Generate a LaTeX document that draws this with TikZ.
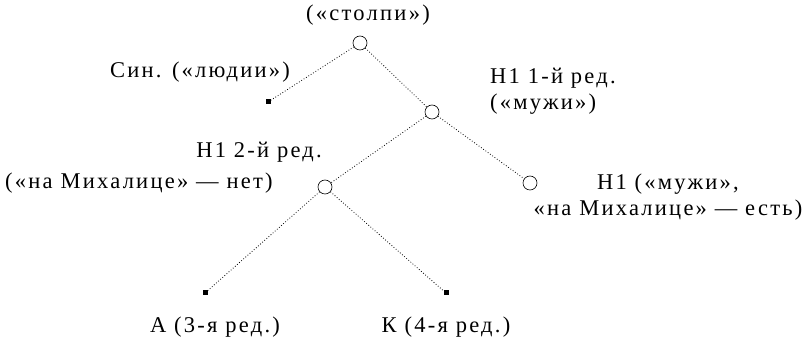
\documentclass[tikz,border=0pt]{standalone}
\usepackage{fontspec}
\setmainfont{Liberation Serif}[LetterSpace=10]
\begin{document}
\begin{tikzpicture}[x=1pt,y=-1pt,
    ms/.style={circle,draw,semithick,fill=white,inner sep=0pt,minimum size=14pt},
    leaf/.style={rectangle,fill=black,inner sep=0pt,minimum size=5pt},
    lbl/.style={inner sep=0pt,font=\fontsize{22.5}{26}\selectfont},
    link/.style={dotted,thick}]
        \useasboundingbox (0,0) rectangle (806,344) ;
        % manuscripts
        \node[ms] (arch) at (360,43) {} ;
        \node[leaf] (sin) at (268,102) {} ;
        \node[ms] (nf) at (432,112) {} ;
        \node[ms] (ns) at (325,187) {} ;
        \node[ms] (nr) at (530,183) {} ;
        \node[leaf] (ca) at (205,293) {} ;
        \node[leaf] (ck) at (446,293) {} ;
        % links
        \draw[link] (arch) -- (sin) ;
        \draw[link] (arch) -- (nf) ;
        \draw[link] (nf) -- (ns) ;
        \draw[link] (nf) -- (nr) ;
        \draw[link] (ns) -- (ca) ;
        \draw[link] (ns) -- (ck) ;
        % labels
        \node[lbl] (archl) at (368,15) {(«столпи»)} ;
        \node[lbl] (sinl) at (200,72) {Син. («людии»)} ;
        \node[lbl,anchor=west,align=left] (nfl) at (490,91) {Н1 1-й ред.\\(«мужи»)} ;
        \node[lbl,anchor=east] (nsla) at (322,152) {Н1 2-й ред.} ;
        \node[lbl,anchor=west] (nslb) at (5,183) {(«на Михалице» — нет)} ;
        \node[lbl,align=center] (nrl) at (668,197) {Н1 («мужи»,\\«на Михалице» — есть)} ;
        \node[lbl] (cal) at (215,327) {А (3-я ред.)} ;
        \node[lbl] (ckl) at (446,327) {К (4-я ред.)} ;
\end{tikzpicture}
\end{document}
